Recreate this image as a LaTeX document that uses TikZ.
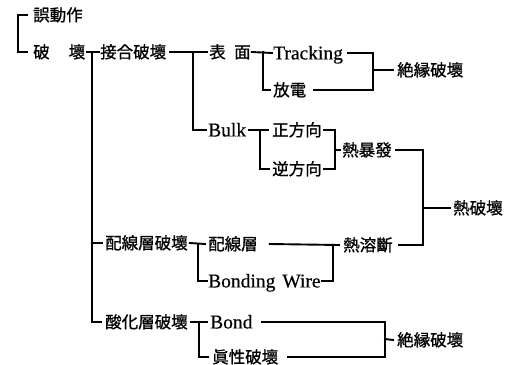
\documentclass[tikz,border=0pt]{standalone}
\usepackage{fontspec}
\setmainfont{Liberation Serif}
\newfontfamily\latf{Liberation Serif}[FakeBold=0.4]
\newfontfamily\cjkf{Noto Sans CJK JP}[FakeBold=1.0]
\begin{document}
\begin{tikzpicture}[x=1pt,y=-1pt,
  cjk/.style={font=\cjkf\fontsize{16.5}{18}\selectfont, inner sep=0pt, anchor=west, text height=12.2pt, text depth=0pt},
  lat/.style={font=\latf\fontsize{19.5}{22}\selectfont, inner sep=0pt, anchor=west, text height=12.9pt, text depth=0pt},
  conn/.style={line width=1.9pt, line cap=rect, line join=miter}]
\useasboundingbox (0,0) rectangle (513,364);
\clip (0,0) rectangle (513,364);
% nodes
\node[cjk] (gosa) at (33,15) {誤動作};
\node[cjk] (hakai) at (33,52) {破\hspace{19pt}壞};
\node[cjk] (setsugo) at (100,52) {接合破壞};
\node[cjk] (hyomen) at (209,52) {表\hspace{8.5pt}面};
\node[lat] (tracking) at (273,53) {Tracking};
\node[cjk] (houden) at (273,90) {放電};
\node[cjk] (zetsu1) at (397,70) {絶縁破壞};
\node[lat] (bulk) at (208,130) {Bulk};
\node[cjk] (seihou) at (272,130) {正方向};
\node[cjk] (gyaku) at (272,169) {逆方向};
\node[cjk] (bakuha) at (342,150) {熱暴發};
\node[cjk] (netsuha) at (453,208) {熱破壞};
\node[cjk] (haisenha) at (105,243) {配線層破壞};
\node[cjk] (haisen) at (208,244) {配線層};
\node[cjk] (yodan) at (343,245) {熱溶斷};
\node[lat] (bonding) at (208,281) {Bonding\hspace{7pt}Wire};
\node[cjk] (sanka) at (105,322) {酸化層破壞};
\node[lat] (bond) at (210,322) {Bond};
\node[cjk] (zetsu2) at (397,340) {絶縁破壞};
\node[cjk] (shinsei) at (212,357) {眞性破壞};
% spine coordinates
\coordinate (sp1) at (18,33);
\coordinate (sp2) at (92,52);
\coordinate (sp3) at (193,52);
\coordinate (sp4) at (263,52);
\coordinate (br1) at (373,70);
\coordinate (sp6) at (260,131);
\coordinate (br2) at (335,150);
\coordinate (br3) at (423,208);
\coordinate (sp9) at (198,245);
\coordinate (br5) at (333,245);
\coordinate (sp11) at (199,322);
\coordinate (br4) at (385,339);
% connectors
\draw[conn] ([xshift=-6pt]gosa.west) -| (sp1) |- ([xshift=-6pt]hakai.west);
\draw[conn] ([xshift=2pt]hakai.east) -- ([xshift=-1pt]setsugo.west);
\draw[conn] (sp2) |- ([xshift=-4pt]sanka.west);
\draw[conn] (sp2 |- haisenha.west) -- ([xshift=-3pt]haisenha.west);
\draw[conn] ([xshift=4pt]setsugo.east) -- ([xshift=-2pt]hyomen.west);
\draw[conn] (sp3) |- ([xshift=-2pt]bulk.west);
\draw[conn] ([xshift=1pt]hyomen.east) -- ([xshift=-1pt]tracking.west);
\draw[conn] (sp4) |- ([xshift=-3pt]houden.west);
\draw[conn] ([xshift=5pt]tracking.east) -| (br1) |- ([xshift=8pt]houden.east);
\draw[conn] (br1) -- ([xshift=-4pt]zetsu1.west);
\draw[conn] ([xshift=3pt]bulk.east) -- ([xshift=-4pt]seihou.west);
\draw[conn] (sp6) |- ([xshift=-3pt]gyaku.west);
\draw[conn] ([xshift=2pt]seihou.east) -| (br2) |- ([xshift=2pt]gyaku.east);
\draw[conn] (br2) -- ([xshift=-2pt]bakuha.west);
\draw[conn] ([xshift=4pt]bakuha.east) -| (br3) |- ([xshift=6pt]yodan.east);
\draw[conn] (br3) -- ([xshift=-3pt]netsuha.west);
\draw[conn] ([xshift=2pt]haisenha.east) -- ([xshift=-3pt]haisen.west);
\draw[conn] (sp9) |- ([xshift=-1pt]bonding.west);
\draw[conn] ([xshift=12pt]haisen.east) -- ([xshift=-4pt]yodan.west);
\draw[conn] (br5) |- ([xshift=1pt]bonding.east);
\draw[conn] ([xshift=3pt]sanka.east) -- ([xshift=-3pt]bond.west);
\draw[conn] (sp11) |- ([xshift=-4pt]shinsei.west);
\draw[conn] ([xshift=9pt]bond.east) -| (br4) |- ([xshift=10pt]shinsei.east);
\draw[conn] (br4) -- ([xshift=-4pt]zetsu2.west);
\end{tikzpicture}
\end{document}
